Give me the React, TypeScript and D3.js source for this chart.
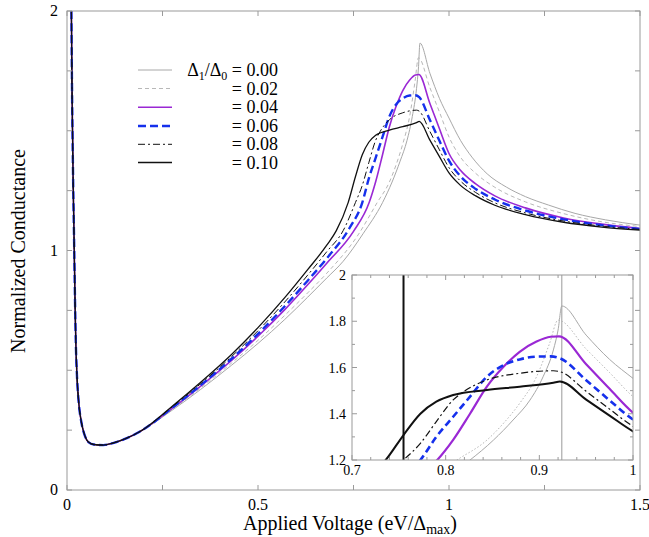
import React from 'react';
import * as d3 from 'd3';

type Pt = [number, number];

// shared low-bias branch (all ratios coincide here)
const lowBias: Pt[] = [
  [0.011, 2.1], [0.013, 1.7], [0.016, 1.3], [0.019, 1.0], [0.021, 0.79], [0.023, 0.62],
  [0.026, 0.48], [0.031, 0.36], [0.038, 0.28], [0.046, 0.23], [0.056, 0.2], [0.07, 0.19],
  [0.095, 0.1875], [0.12, 0.196], [0.15, 0.212], [0.19, 0.243],
];

const tail000: Pt[] = [
  [0.277, 0.335], [0.35, 0.42], [0.43, 0.52], [0.5, 0.612], [0.57, 0.712], [0.63, 0.805],
  [0.68, 0.885], [0.723, 0.955], [0.775, 1.07], [0.826, 1.2], [0.851, 1.286], [0.872, 1.373],
  [0.89, 1.459], [0.904, 1.56], [0.915, 1.676], [0.92, 1.762], [0.924, 1.866], [0.95, 1.74],
  [0.975, 1.635], [1.0, 1.553], [1.03, 1.46], [1.06, 1.39], [1.1, 1.32], [1.15, 1.265],
  [1.2, 1.225], [1.26, 1.19], [1.33, 1.155], [1.41, 1.128], [1.5, 1.106],
];
const tail002: Pt[] = [
  [0.277, 0.339], [0.35, 0.426], [0.43, 0.529], [0.5, 0.625], [0.57, 0.729], [0.63, 0.823],
  [0.68, 0.905], [0.762, 1.065], [0.812, 1.2], [0.844, 1.286], [0.862, 1.36], [0.879, 1.445],
  [0.897, 1.56], [0.911, 1.705], [0.92, 1.805], [0.95, 1.68], [0.975, 1.578], [1.0, 1.474],
  [1.03, 1.39], [1.07, 1.322], [1.12, 1.264], [1.2, 1.203], [1.3, 1.154], [1.4, 1.12], [1.5, 1.1],
];
const tail004: Pt[] = [
  [0.277, 0.343], [0.35, 0.434], [0.43, 0.54], [0.5, 0.642], [0.57, 0.753], [0.63, 0.857],
  [0.68, 0.947], [0.75, 1.08], [0.791, 1.2], [0.808, 1.287], [0.826, 1.4], [0.844, 1.517],
  [0.862, 1.604], [0.879, 1.668], [0.897, 1.712], [0.912, 1.733], [0.921, 1.735], [0.95, 1.614],
  [0.975, 1.508], [1.0, 1.405], [1.03, 1.335], [1.07, 1.278], [1.12, 1.228], [1.2, 1.178],
  [1.3, 1.136], [1.4, 1.11], [1.5, 1.092],
];
const tail006: Pt[] = [
  [0.277, 0.345], [0.35, 0.438], [0.43, 0.547], [0.5, 0.652], [0.57, 0.767], [0.63, 0.874],
  [0.68, 0.967], [0.74, 1.095], [0.773, 1.2], [0.79, 1.3], [0.808, 1.387], [0.826, 1.474],
  [0.844, 1.56], [0.862, 1.611], [0.879, 1.635], [0.897, 1.647], [0.912, 1.648], [0.922, 1.64],
  [0.95, 1.545], [0.975, 1.458], [1.0, 1.375], [1.03, 1.31], [1.07, 1.257], [1.12, 1.213],
  [1.2, 1.167], [1.3, 1.13], [1.4, 1.106], [1.5, 1.09],
];
const tail008: Pt[] = [
  [0.277, 0.349], [0.35, 0.444], [0.43, 0.556], [0.5, 0.665], [0.57, 0.785], [0.63, 0.897],
  [0.68, 0.995], [0.723, 1.083], [0.755, 1.2], [0.773, 1.272], [0.79, 1.366], [0.808, 1.46],
  [0.819, 1.495], [0.844, 1.546], [0.879, 1.575], [0.915, 1.586], [0.922, 1.582], [0.95, 1.497],
  [0.975, 1.42], [1.0, 1.346], [1.03, 1.29], [1.07, 1.242], [1.12, 1.199], [1.2, 1.157],
  [1.3, 1.123], [1.4, 1.102], [1.5, 1.088],
];
const tail010: Pt[] = [
  [0.277, 0.352], [0.35, 0.45], [0.43, 0.565], [0.5, 0.678], [0.57, 0.803], [0.63, 0.92],
  [0.68, 1.022], [0.705, 1.083], [0.736, 1.2], [0.755, 1.308], [0.773, 1.4], [0.79, 1.452],
  [0.808, 1.481], [0.844, 1.503], [0.879, 1.517], [0.915, 1.534], [0.922, 1.539], [0.95, 1.461],
  [0.975, 1.392], [1.0, 1.324], [1.03, 1.272], [1.07, 1.228], [1.12, 1.189], [1.2, 1.15],
  [1.3, 1.118], [1.4, 1.098], [1.5, 1.085],
];

const ratios = ['0.00', '0.02', '0.04', '0.06', '0.08', '0.10'];
const tails = [tail000, tail002, tail004, tail006, tail008, tail010];

const xTicks = [0, 0.5, 1, 1.5];
const xMinor = [0.25, 0.75, 1.25];
const yTicks = [0, 1, 2];
const yMinor = [0.25, 0.5, 0.75, 1.25, 1.5, 1.75];
const insetXTicks = [0.7, 0.8, 0.9, 1];
const insetXMinor = [0.72, 0.74, 0.76, 0.78, 0.82, 0.84, 0.86, 0.88, 0.92, 0.94, 0.96, 0.98];
const insetYTicks = [1.2, 1.4, 1.6, 1.8, 2];
const insetYMinor = [1.3, 1.5, 1.7, 1.9];
const insetMarkers = [0.755, 0.924];

const styles = [
  { color: '#a8a8a8', w: 1, dash: '', iw: 1, idash: '' },
  { color: '#b8b8b8', w: 1, dash: '4,3', iw: 1, idash: '1.5,2' },
  { color: '#9a28d4', w: 1.6, dash: '', iw: 2.2, idash: '' },
  { color: '#1530ec', w: 2.4, dash: '8,4', iw: 2.6, idash: '7,4' },
  { color: '#111', w: 1, dash: '7,3,2,3', iw: 1.2, idash: '7,3,2,3' },
  { color: '#111', w: 1.3, dash: '', iw: 2, idash: '' },
];

const font = '"Liberation Serif", "Times New Roman", serif';
const frame = '#9a9a9a';

export default function App() {
  const x = d3.scaleLinear().domain([0, 1.5]).range([67, 640]);
  const y = d3.scaleLinear().domain([0, 2]).range([490, 11]);
  const ix = d3.scaleLinear().domain([0.7, 1]).range([352, 633]);
  const iy = d3.scaleLinear().domain([1.2, 2]).range([460, 275]);

  const series = tails.map(t => [...lowBias, ...t]);
  const mainLine = d3.line<Pt>().x(d => x(d[0])).y(d => y(d[1])).curve(d3.curveMonotoneX);
  const insetLine = d3.line<Pt>().x(d => ix(d[0])).y(d => iy(d[1])).curve(d3.curveMonotoneX);

  const legendRows = [70, 88.5, 107.3, 126, 144.3, 162.5];

  return (
    <svg width={649} height={537} style={{ position: 'absolute', left: 0, top: 0 }} fontFamily={font}>
      <defs>
        <clipPath id="mainClip"><rect x={67} y={11} width={573} height={479} /></clipPath>
        <clipPath id="insetClip"><rect x={352} y={275} width={281} height={185} /></clipPath>
      </defs>
      <rect width={649} height={537} fill="#fff" />

      {/* main curves */}
      <g clipPath="url(#mainClip)" fill="none">
        {series.map((s, i) => (
          <path key={i} d={mainLine(s) || ''} stroke={styles[i].color} strokeWidth={styles[i].w}
            strokeDasharray={styles[i].dash || undefined} />
        ))}
      </g>

      {/* main frame + ticks */}
      <rect x={67} y={11} width={573} height={479} fill="none" stroke={frame} strokeWidth={1} />
      {[...xTicks, ...xMinor].map(t => (
        <g key={'xt' + t} stroke={frame}>
          <line x1={x(t)} x2={x(t)} y1={490} y2={485} />
          <line x1={x(t)} x2={x(t)} y1={11} y2={16} />
        </g>
      ))}
      {[...yTicks, ...yMinor].map(t => (
        <g key={'yt' + t} stroke={frame}>
          <line x1={67} x2={72} y1={y(t)} y2={y(t)} />
          <line x1={640} x2={635} y1={y(t)} y2={y(t)} />
        </g>
      ))}
      {xTicks.map(t => (
        <text key={'xl' + t} x={x(t)} y={510} fontSize={16} textAnchor="middle">{String(t)}</text>
      ))}
      {yTicks.map(t => (
        <text key={'yl' + t} x={58} y={y(t) + 5} fontSize={16} textAnchor="end">{String(t)}</text>
      ))}
      <text x={350} y={530} fontSize={20} textAnchor="middle">
        Applied Voltage (eV/Δ<tspan fontSize={14} dy={4}>max</tspan><tspan dy={-4}>)</tspan>
      </text>
      <text transform="translate(25,251) rotate(-90)" fontSize={20} textAnchor="middle">Normalized Conductance</text>

      {/* legend */}
      {ratios.map((r, i) => (
        <g key={'lg' + r}>
          <line x1={138} x2={172} y1={legendRows[i]} y2={legendRows[i]} stroke={styles[i].color}
            strokeWidth={styles[i].w} strokeDasharray={styles[i].dash || undefined} />
          <text x={278} y={legendRows[i] + 6} fontSize={18} textAnchor="end">
            {i === 0 ? (
              <>
                Δ<tspan fontSize={12} dy={4}>1</tspan><tspan dy={-4}>/Δ</tspan><tspan fontSize={12} dy={4}>0</tspan>
                <tspan dy={-4}>{' = ' + r}</tspan>
              </>
            ) : '= ' + r}
          </text>
        </g>
      ))}

      {/* inset */}
      <rect x={352} y={275} width={281} height={185} fill="#fff" />
      <g clipPath="url(#insetClip)" fill="none">
        {insetMarkers.map((m, i) => (
          <line key={'mk' + m} x1={ix(m)} x2={ix(m)} y1={275} y2={460}
            stroke={i === 0 ? '#111' : frame} strokeWidth={i === 0 ? 2 : 1} />
        ))}
        {series.map((s, i) => (
          <path key={i} d={insetLine(s) || ''} stroke={styles[i].color} strokeWidth={styles[i].iw}
            strokeDasharray={styles[i].idash || undefined} />
        ))}
      </g>
      <rect x={352} y={275} width={281} height={185} fill="none" stroke={frame} strokeWidth={1} />
      {[...insetXTicks, ...insetXMinor].map(t => {
        const len = insetXTicks.includes(t) ? 5 : 3;
        return (
          <g key={'ixt' + t} stroke={frame}>
            <line x1={ix(t)} x2={ix(t)} y1={460} y2={460 - len} />
            <line x1={ix(t)} x2={ix(t)} y1={275} y2={275 + len} />
          </g>
        );
      })}
      {[...insetYTicks, ...insetYMinor].map(t => {
        const len = insetYTicks.includes(t) ? 5 : 3;
        return (
          <g key={'iyt' + t} stroke={frame}>
            <line x1={352} x2={352 + len} y1={iy(t)} y2={iy(t)} />
            <line x1={633} x2={633 - len} y1={iy(t)} y2={iy(t)} />
          </g>
        );
      })}
      {insetXTicks.map(t => (
        <text key={'ixl' + t} x={ix(t)} y={475} fontSize={14} textAnchor="middle">{String(t)}</text>
      ))}
      {insetYTicks.map(t => (
        <text key={'iyl' + t} x={346} y={iy(t) + 5} fontSize={14} textAnchor="end">{String(t)}</text>
      ))}
    </svg>
  );
}
